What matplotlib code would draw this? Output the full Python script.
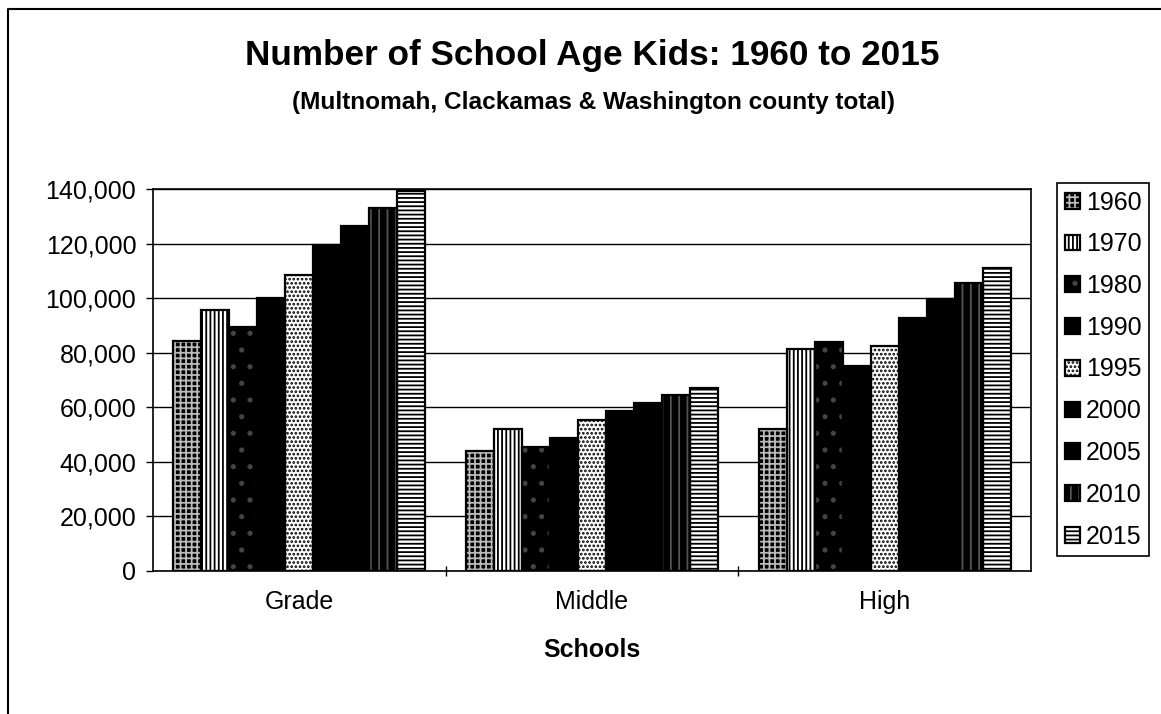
import matplotlib.pyplot as plt
import numpy as np
from matplotlib.lines import Line2D
from matplotlib.legend_handler import HandlerTuple

plt.rcParams['font.family'] = ['Liberation Sans', 'DejaVu Sans']
plt.rcParams['hatch.linewidth'] = 1.3

schools = ["Grade", "Middle", "High"]
years = ["1960", "1970", "1980", "1990", "1995", "2000", "2005", "2010", "2015"]
kids = {
    "1960": [84400, 43800, 52000],
    "1970": [95800, 52000, 81500],
    "1980": [89300, 45400, 83900],
    "1990": [100000, 48800, 75200],
    "1995": [108600, 55500, 82400],
    "2000": [119400, 58700, 92600],
    "2005": [126500, 61500, 99700],
    "2010": [132900, 64400, 105500],
    "2015": [139400, 67200, 111200],
}

# (face, hatch, hatch colour) per year, mimicking the b/w Excel patterns
styles = {
    "1960": ("black", "+++", "#bbbbbb"),
    "1970": ("white", "||||", "black"),
    "1980": ("black", ".", "#444444"),
    "1990": ("black", "", "black"),
    "1995": ("white", "....", "black"),
    "2000": ("black", "", "black"),
    "2005": ("black", "", "black"),
    "2010": ("black", "||", "#555555"),
    "2015": ("white", "----", "black"),
}

fig = plt.figure(figsize=(11.61, 7.14), dpi=100)
ax = fig.add_axes([153/1161, 1 - 571/714, (1031 - 153)/1161, (571 - 189)/714])

x = np.arange(len(schools))
width = 0.0957
handles = []
for i, yr in enumerate(years):
    face, hatch, hcol = styles[yr]
    pos = x + (i - 4) * width
    fill = ax.bar(pos, kids[yr], width, color=face, hatch=hatch,
                  edgecolor=hcol, linewidth=0, zorder=3)
    outline = ax.bar(pos, kids[yr], width, fill=False,
                     edgecolor="black", linewidth=1.6, zorder=4)
    handles.append((fill[0], outline[0]))

ax.set_xlim(-0.5, 2.5)
ax.set_ylim(0, 140000)
ax.set_yticks(np.arange(0, 140001, 20000))
ax.yaxis.set_major_formatter(plt.FuncFormatter(lambda v, p: f"{int(v):,}"))
ax.grid(axis="y", color="black", linewidth=1.0, zorder=0)
ax.set_axisbelow(True)

ax.set_xticks(x, schools)
ax.set_xticks([0.5, 1.5], minor=True)
ax.tick_params(axis="x", which="major", length=0, pad=14, labelsize=18)
ax.tick_params(axis="x", which="minor", length=7, direction="inout", width=1)
ax.tick_params(axis="y", length=5, width=1, pad=7, labelsize=18)
for s in ax.spines.values():
    s.set_linewidth(1.2)

fig.text(592/1161, 1 - 55/714, "Number of School Age Kids: 1960 to 2015",
         ha="center", va="center", fontsize=25.3, fontweight="bold")
fig.text(593/1161, 1 - 103/714, "(Multnomah, Clackamas & Washington county total)",
         ha="center", va="center", fontsize=17.6, fontweight="bold")
fig.text(592/1161, 1 - 650/714, "Schools",
         ha="center", va="center", fontsize=18, fontweight="bold")

leg = fig.legend(handles, years, loc="upper left",
                 bbox_to_anchor=(1057/1161, 1 - 183/714),
                 bbox_transform=fig.transFigure, borderaxespad=0,
                 fontsize=18, handlelength=0.6, handleheight=0.6,
                 handletextpad=0.25, labelspacing=0.71, borderpad=0.3,
                 fancybox=False, framealpha=1, edgecolor="black",
                 handler_map={tuple: HandlerTuple(ndivide=1)})
leg.get_frame().set_linewidth(1.2)

# outer chart frame (left and top edges visible in the scan)
fig.add_artist(Line2D([8/1161, 8/1161, 1], [0, 1 - 9/714, 1 - 9/714],
                      transform=fig.transFigure, color="black", linewidth=1.5))

plt.savefig("out.png", dpi=100)
